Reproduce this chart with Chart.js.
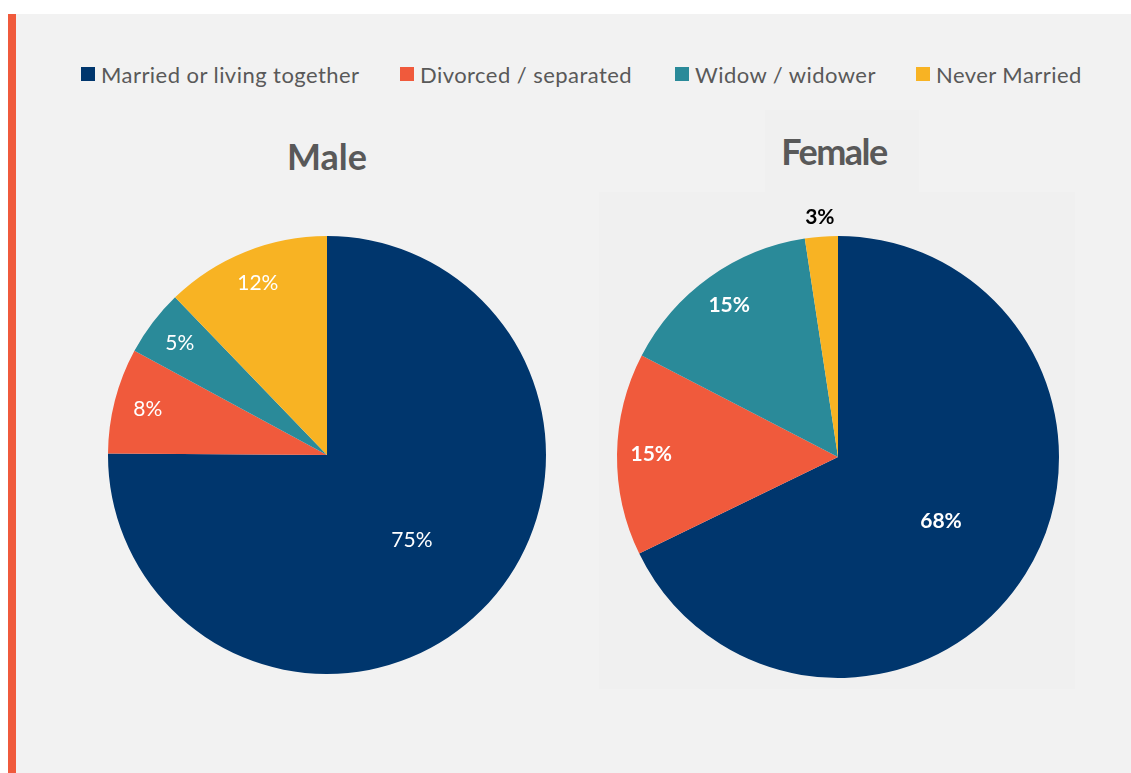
<!DOCTYPE html>
<html>
<head>
<meta charset="utf-8">
<script src="https://cdn.jsdelivr.net/npm/chart.js@4"></script>
<style>
  html, body { margin: 0; padding: 0; background: #ffffff; width: 1131px; height: 773px; overflow: hidden; }
  #panel { position: absolute; left: 8px; top: 14px; width: 1123px; height: 759px; background: #f2f2f2; border-left: 8px solid #f05a3c; box-sizing: border-box; }
  #legend { position: absolute; left: 0; top: 60px; width: 1131px; height: 30px; font-family: Lato, "Open Sans", sans-serif; font-size: 22px; letter-spacing: 0.45px; color: #595959; }
  .li { position: absolute; top: 0; display: flex; align-items: center; white-space: nowrap; height: 28px; }
  .sw { width: 14px; height: 14px; margin-right: 6px; }
  .title { position: absolute; font-family: Lato, "Open Sans", sans-serif; font-weight: bold; font-size: 36px; color: #595959; text-align: center; }
  #femaleTitleBox { position: absolute; left: 765px; top: 110px; width: 154px; height: 82px; background: #f0f0f0; }
  canvas { position: absolute; }
</style>
</head>
<body>
<div id="panel"></div>
<div id="legend"></div>
<div id="femaleTitleBox"></div>
<div class="title" id="maleTitle" style="left:227px; top:134px; width:200px;">Male</div>
<div class="title" id="femaleTitle" style="left:734px; top:129px; width:200px; letter-spacing:-1.5px;">Female</div>
<canvas id="male" width="478" height="478" style="left:88px; top:216px; width:478px; height:478px;"></canvas>
<canvas id="female" width="476" height="497" style="left:599px; top:192px; width:476px; height:497px; background:#f0f0f0;"></canvas>
<script>
// ---- data ----
const categories = ["Married or living together", "Divorced / separated", "Widow / widower", "Never Married"];
const colors = ["#00366d", "#f05a3c", "#2a8a99", "#f8b323"];
const maleValues = [75.1, 7.8, 4.9, 12.2];
const femaleValues = [67.8, 14.8, 15.0, 2.4];
const maleLabels = ["75%", "8%", "5%", "12%"];
const femaleLabels = ["68%", "15%", "15%", "3%"];
const legendLeft = [81, 400, 675, 916];

// legend
const legend = document.getElementById('legend');
categories.forEach((c, i) => {
  const d = document.createElement('div'); d.className = 'li'; d.style.left = legendLeft[i] + 'px';
  const s = document.createElement('div'); s.className = 'sw'; s.style.background = colors[i];
  const t = document.createElement('span'); t.textContent = c;
  d.appendChild(s); d.appendChild(t); legend.appendChild(d);
});

const labelPlugin = {
  id: 'sliceLabels',
  afterDatasetsDraw(chart, args, opts) {
    const ctx = chart.ctx;
    const meta = chart.getDatasetMeta(0);
    const labels = opts.labels;
    ctx.save();
    ctx.textAlign = 'center';
    ctx.textBaseline = 'middle';
    meta.data.forEach((arc, i) => {
      const p = arc.getProps(['x', 'y', 'startAngle', 'endAngle', 'outerRadius'], true);
      const mid = (p.startAngle + p.endAngle) / 2;
      const frac = (p.endAngle - p.startAngle) / (2 * Math.PI);
      let rf, color;
      if (frac > 0.5) { rf = 0.55; color = '#ffffff'; }
      else if (frac < 0.04) { rf = 1.09; color = '#000000'; }
      else { rf = 0.845; color = '#ffffff'; }
      const x = p.x + Math.cos(mid) * p.outerRadius * rf;
      const y = p.y + Math.sin(mid) * p.outerRadius * rf;
      ctx.fillStyle = color;
      ctx.font = (opts.bold ? 'bold ' : '') + '21px Lato, "Open Sans", sans-serif';
      ctx.fillText(labels[i], x, y);
    });
    ctx.restore();
  }
};

function makePie(id, values, labels, bold, padding) {
  return new Chart(document.getElementById(id), {
    type: 'pie',
    data: { labels: categories, datasets: [{ data: values, backgroundColor: colors, borderWidth: 0 }] },
    options: {
      responsive: false,
      animation: false,
      layout: { padding: padding },
      plugins: {
        legend: { display: false },
        tooltip: { enabled: false },
        sliceLabels: { labels: labels, bold: bold }
      }
    },
    plugins: [labelPlugin]
  });
}
makePie('male', maleValues, maleLabels, false, { left: 20, right: 20, top: 20, bottom: 20 });
makePie('female', femaleValues, femaleLabels, true, { left: 18, right: 16, top: 44, bottom: 11 });
</script>
</body>
</html>
